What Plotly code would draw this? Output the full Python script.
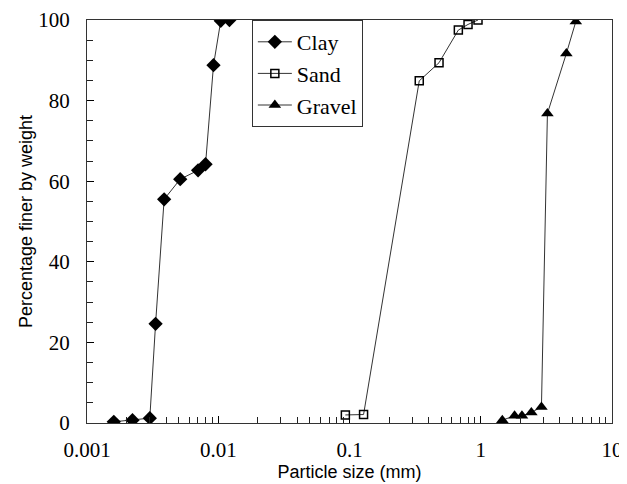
import plotly.graph_objects as go

clay_size = [0.0016, 0.00222, 0.00301, 0.00333, 0.00387, 0.00513, 0.00702, 0.0080, 0.0092, 0.01045, 0.01217]
clay_pct = [0.3, 0.7, 1.2, 24.6, 55.5, 60.5, 62.7, 64.2, 88.8, 99.8, 100.0]

sand_size = [0.093, 0.128, 0.34, 0.481, 0.675, 0.80, 0.953]
sand_pct = [2.0, 2.1, 84.9, 89.4, 97.5, 98.9, 100.0]

gravel_size = [1.46, 1.81, 2.06, 2.43, 2.90, 3.22, 4.49, 5.30]
gravel_pct = [0.7, 1.8, 1.8, 2.6, 4.0, 76.8, 91.7, 99.6]

x_tickvals = [0.001, 0.01, 0.1, 1, 10]
x_ticktext = ["0.001", "0.01", "0.1", "1", "10"]
x_minor = [m * d for d in [0.001, 0.01, 0.1, 1] for m in range(2, 10)]
y_tickvals = [0, 20, 40, 60, 80, 100]

serif = "Liberation Serif, Times New Roman, serif"
sans = "Liberation Sans, Arial, sans-serif"
line_col = "#333333"

fig = go.Figure()
fig.add_trace(go.Scatter(x=clay_size, y=clay_pct, name="Clay", mode="lines+markers",
                         line=dict(color=line_col, width=1),
                         marker=dict(symbol="diamond", size=11, color="black")))
fig.add_trace(go.Scatter(x=sand_size, y=sand_pct, name="Sand", mode="lines+markers",
                         line=dict(color=line_col, width=1),
                         marker=dict(symbol="square-open", size=8, color="black",
                                     line=dict(width=1.5, color="black"))))
fig.add_trace(go.Scatter(x=gravel_size, y=gravel_pct, name="Gravel", mode="lines+markers",
                         line=dict(color=line_col, width=1),
                         marker=dict(symbol="triangle-up", size=11, color="black")))

# The page body adds an 8px offset, so the figure is 619x476 to fill the window.
fig.update_layout(
    width=619, height=476,
    margin=dict(l=79, r=15, t=12, b=61, autoexpand=False),
    paper_bgcolor="white", plot_bgcolor="white",
    font=dict(family=serif, size=21, color="black"),
    showlegend=True,
    legend=dict(x=0.314, y=1.0, xanchor="left", yanchor="top",
                bordercolor="#333333", borderwidth=1, bgcolor="white",
                font=dict(family=serif, size=22, color="black"),
                itemwidth=34, tracegroupgap=0),
    xaxis=dict(type="log", range=[-3, 1], automargin=False,
               tickmode="array", tickvals=x_tickvals, ticktext=x_ticktext,
               ticks="inside", ticklen=7, tickwidth=1, tickcolor="black",
               minor=dict(ticks="inside", ticklen=6, tickwidth=1, tickcolor="#222222",
                          tickmode="array", tickvals=x_minor, showgrid=False),
               showline=True, linecolor="#333333", linewidth=1, mirror=True,
               showgrid=False, zeroline=False,
               ticklabelstandoff=8,
               tickfont=dict(family=serif, size=21, color="black"),
               title=dict(text="Particle size (mm)", standoff=0,
                          font=dict(family=sans, size=18, color="black"))),
    yaxis=dict(range=[0, 100], automargin=False,
               tickmode="array", tickvals=y_tickvals,
               ticks="inside", ticklen=7, tickwidth=1, tickcolor="black",
               minor=dict(ticks="inside", ticklen=6, tickwidth=1, dtick=5,
                          tickcolor="#222222", showgrid=False),
               showline=True, linecolor="#333333", linewidth=1, mirror=True,
               showgrid=False, zeroline=False,
               ticklabelstandoff=12,
               tickfont=dict(family=serif, size=21, color="black"),
               title=dict(text="Percentage finer by weight", standoff=0,
                          font=dict(family=sans, size=18, color="black"))),
)

fig.write_html("out.html")
